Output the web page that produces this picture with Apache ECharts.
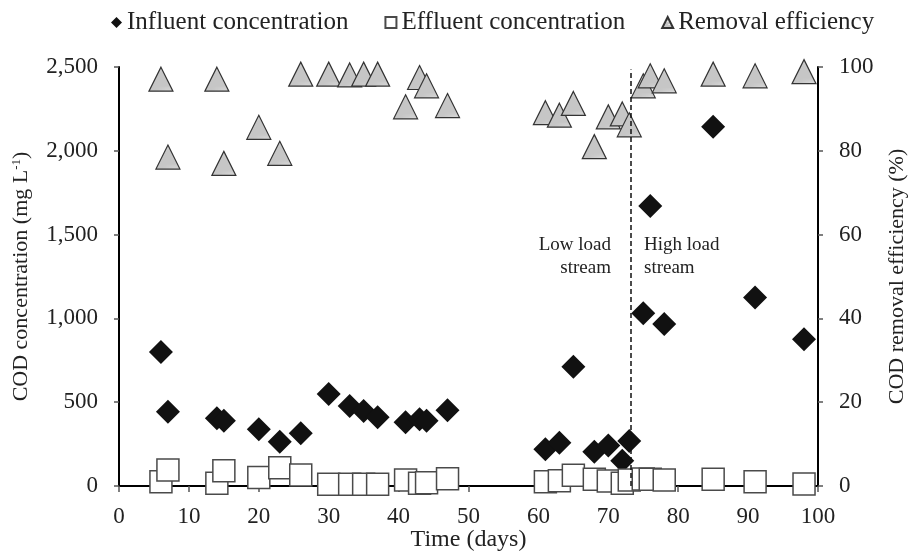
<!doctype html>
<html>
    <head>
        <meta charset="utf-8">
        <title>COD influent, effluent and removal efficiency</title>
        <style>
            html, body { margin: 0; padding: 0; background: #fff; }
            #main { width: 909px; height: 553px; }
        </style>
    </head>
    <body>
        <div id="main"></div>
        <script src="https://cdn.jsdelivr.net/npm/echarts@6/dist/echarts.min.js"></script>
        <script>
            // sampling days
            var days = [6, 7, 14, 15, 20, 23, 26, 30, 33, 35, 37, 41, 43, 44, 47,
                        61, 63, 65, 68, 70, 72, 73, 75, 76, 78, 85, 91, 98];
            // COD values (mg/L)
            var influent = [800, 443, 404, 390, 338, 264, 314, 549, 478, 447, 410, 380, 398, 390, 452,
                            219, 258, 712, 205, 241, 151, 268, 1030, 1671, 967, 2144, 1124, 875];
            var effluent = [26, 95, 16, 91, 50, 109, 66, 10, 10, 10, 10, 36, 16, 20, 44,
                            26, 32, 64, 40, 30, 16, 36, 42, 40, 36, 40, 26, 12];
            // removal efficiency (%)
            var removal = [97.1, 78.5, 97.1, 77.0, 85.6, 79.4, 98.3, 98.3, 98.1, 98.3, 98.3, 90.5, 97.5, 95.5, 90.8,
                           89.1, 88.5, 91.3, 81.0, 88.1, 88.8, 86.2, 95.5, 97.9, 96.7, 98.3, 97.9, 98.9];
            var switchDay = 73.2;

            function pairs(vals) {
                return days.map(function (d, i) { return [d, vals[i]]; });
            }

            // dotted grey texture for the triangles
            var tex = document.createElement('canvas');
            tex.width = 6; tex.height = 6;
            var tc = tex.getContext('2d');
            tc.fillStyle = '#c6c6c6';
            tc.fillRect(0, 0, 6, 6);
            tc.fillStyle = '#ececec';
            tc.fillRect(0, 1, 3, 1);
            tc.fillRect(3, 4, 3, 1);

            var font = 'Liberation Serif';
            var chart = echarts.init(document.getElementById('main'));

            var axisLine = { show: true, lineStyle: { color: '#000', width: 2 } };
            var tick = { show: true, length: 5, lineStyle: { color: '#555', width: 1.5 } };

            chart.setOption({
                animation: false,
                textStyle: { fontFamily: font, color: '#222' },
                grid: { left: 119, right: 91, top: 67, bottom: 67, outerBoundsMode: 'none', containLabel: false },
                legend: {
                    left: 106,
                    top: 5,
                    itemWidth: 11,
                    itemHeight: 11,
                    itemGap: 36,
                    textStyle: { fontFamily: font, fontSize: 25, color: '#222' },
                    data: ['Influent concentration', 'Effluent concentration', 'Removal efficiency']
                },
                xAxis: {
                    type: 'value',
                    min: 0, max: 100, interval: 10,
                    name: 'Time (days)',
                    nameLocation: 'middle',
                    nameGap: 42,
                    nameMoveOverlap: false,
                    nameTextStyle: { fontFamily: font, fontSize: 24, color: '#222' },
                    axisLine: axisLine,
                    axisTick: { show: true, length: 6, lineStyle: { color: '#555', width: 1.5 } },
                    axisLabel: { fontFamily: font, fontSize: 23, color: '#222', margin: 19 },
                    splitLine: { show: false }
                },
                yAxis: [{
                    type: 'value',
                    min: 0, max: 2500, interval: 500,
                    name: 'COD concentration (mg L{sup|-1})',
                    nameLocation: 'middle',
                    nameGap: 86,
                    nameMoveOverlap: false,
                    nameTextStyle: {
                        fontFamily: font, fontSize: 22, color: '#222',
                        rich: { sup: { fontFamily: font, fontSize: 13, color: '#222', padding: [0, 0, 10, 0] } }
                    },
                    axisLine: axisLine,
                    axisTick: tick,
                    axisLabel: {
                        fontFamily: font, fontSize: 23, color: '#222', margin: 21,
                        formatter: function (v) { return v.toLocaleString('en-US'); }
                    },
                    splitLine: { show: false }
                }, {
                    type: 'value',
                    min: 0, max: 100, interval: 20,
                    name: 'COD removal efficiency (%)',
                    nameLocation: 'middle',
                    nameGap: 68,
                    nameMoveOverlap: false,
                    nameRotate: 90,
                    nameTextStyle: { fontFamily: font, fontSize: 22, color: '#222' },
                    axisLine: axisLine,
                    axisTick: tick,
                    axisLabel: { fontFamily: font, fontSize: 23, color: '#222', margin: 21 },
                    splitLine: { show: false }
                }],
                series: [{
                    name: 'Influent concentration',
                    type: 'scatter',
                    symbol: 'diamond',
                    symbolSize: 24,
                    itemStyle: { color: '#111', opacity: 1 },
                    data: pairs(influent)
                }, {
                    name: 'Effluent concentration',
                    type: 'scatter',
                    symbol: 'rect',
                    symbolSize: 22,
                    itemStyle: { color: '#fff', borderColor: '#4a4a4a', borderWidth: 1.5, opacity: 1 },
                    data: pairs(effluent)
                }, {
                    name: 'Removal efficiency',
                    type: 'scatter',
                    yAxisIndex: 1,
                    symbol: 'triangle',
                    symbolSize: [24, 24],
                    itemStyle: {
                        color: { image: tex, repeat: 'repeat' },
                        borderColor: '#333', borderWidth: 1.2, opacity: 1
                    },
                    data: pairs(removal),
                    markLine: {
                        silent: true,
                        symbol: 'none',
                        z: 10,
                        label: { show: false },
                        lineStyle: { color: '#111', type: [5, 3], width: 1.5 },
                        data: [[{ coord: [switchDay, 0] }, { coord: [switchDay, 99.4] }]]
                    }
                }],
                graphic: [
                    { type: 'text', right: 909 - 611, top: 236,
                      style: { text: 'Low load', fontFamily: font, fontSize: 19, fill: '#222' } },
                    { type: 'text', right: 909 - 611, top: 259,
                      style: { text: 'stream', fontFamily: font, fontSize: 19, fill: '#222' } },
                    { type: 'text', left: 644, top: 236,
                      style: { text: 'High load', fontFamily: font, fontSize: 19, fill: '#222' } },
                    { type: 'text', left: 644, top: 259,
                      style: { text: 'stream', fontFamily: font, fontSize: 19, fill: '#222' } }
                ]
            });

            window.addEventListener('resize', function () {
                chart.resize();
            });
        </script>
    </body>
</html>
